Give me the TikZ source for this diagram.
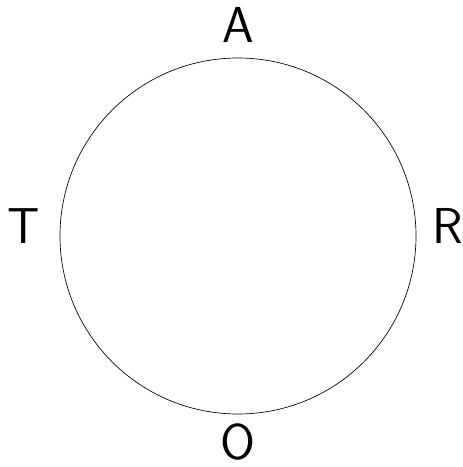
\documentclass[tikz,border=0pt]{standalone}
\usepackage{tikz}

\begin{document}
\begin{tikzpicture}[x=0.02646cm, y=-0.02646cm, every node/.style={font=\sffamily\fontsize{38}{45}\selectfont, inner sep=0pt, anchor=base}]
\useasboundingbox (0,0) rectangle (463,467);
\draw[line width=0.5pt] (238,236) circle (178);
\node (a) at (238,43) {A};
\node (r) at (448,243) {R};
\node (o) at (238,459) {O};
\node (t) at (24,243) {T};
\end{tikzpicture}
\end{document}
